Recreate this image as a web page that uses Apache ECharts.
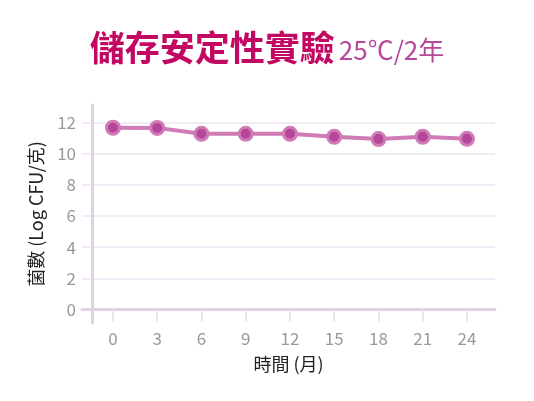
<!DOCTYPE html>
<html><head><meta charset="utf-8">
<script src="https://cdn.jsdelivr.net/npm/echarts@6/dist/echarts.min.js"></script>
<style>html,body{margin:0;padding:0;background:#fff}#c{width:534px;height:401px}</style>
</head><body><div id="c"></div>
<script>
var months = [0, 3, 6, 9, 12, 15, 18, 21, 24];
var counts = [11.67, 11.66, 11.28, 11.28, 11.28, 11.09, 10.94, 11.09, 10.96];
var xTicks = [0, 3, 6, 9, 12, 15, 18, 21, 24];
var yTicks = [0, 2, 4, 6, 8, 10, 12];
var titleMain = '儲存安定性實驗';
var titleSub = '25℃/2年';
var xName = '時間 (月)';
var yName = '菌數 (Log CFU/克)';

var font = '"Noto Sans CJK TC", "Noto Sans", sans-serif';
var chart = echarts.init(document.getElementById('c'), null, {renderer: 'canvas'});
chart.setOption({
  animation: false,
  textStyle: {fontFamily: font},
  title: {
    text: '{a|' + titleMain + '} {b|' + titleSub + '}',
    left: 'center', top: 25,
    textStyle: {
      rich: {
        a: {fontSize: 35, fontWeight: 'bold', color: '#c30863', fontFamily: font},
        b: {fontSize: 26, fontWeight: 'normal', color: '#b5489a', fontFamily: font, padding: [5, 0, 0, 0]}
      }
    }
  },
  grid: {left: 82, right: 39, top: 105, bottom: 78},
  xAxis: {
    type: 'value', min: -2.1, max: 25.9,
    name: xName, nameLocation: 'middle', nameGap: 32,
    nameTextStyle: {fontSize: 18, color: '#222', fontFamily: font},
    axisLine: {onZero: true, lineStyle: {color: '#e2d0e6', width: 3}},
    axisTick: {show: true, length: 12, customValues: xTicks, lineStyle: {color: '#eadcee', width: 1.5}},
    axisLabel: {customValues: xTicks, color: '#999', fontSize: 17, margin: 7, fontFamily: font},
    splitLine: {show: false}
  },
  yAxis: {
    type: 'value', min: -0.87, max: 13.13, offset: -10,
    name: yName, nameLocation: 'middle', nameGap: 47, nameRotate: 90,
    nameTextStyle: {fontSize: 18, color: '#222', fontFamily: font},
    axisLine: {show: true, onZero: false, lineStyle: {color: '#e2d0e6', width: 3}},
    axisTick: {show: false, customValues: yTicks},
    axisLabel: {customValues: yTicks, color: '#999', fontSize: 17, margin: 16, fontFamily: font},
    splitLine: {show: true, lineStyle: {color: '#ece4f2', width: 1.5}}
  },
  series: [{
    type: 'line',
    data: months.map(function (m, i) { return [m, counts[i]]; }),
    lineStyle: {color: '#d07ab6', width: 4},
    symbol: 'circle', symbolSize: 13,
    itemStyle: {color: '#b5479b', borderColor: '#d07ab6', borderWidth: 3}
  }]
});
</script></body></html>
